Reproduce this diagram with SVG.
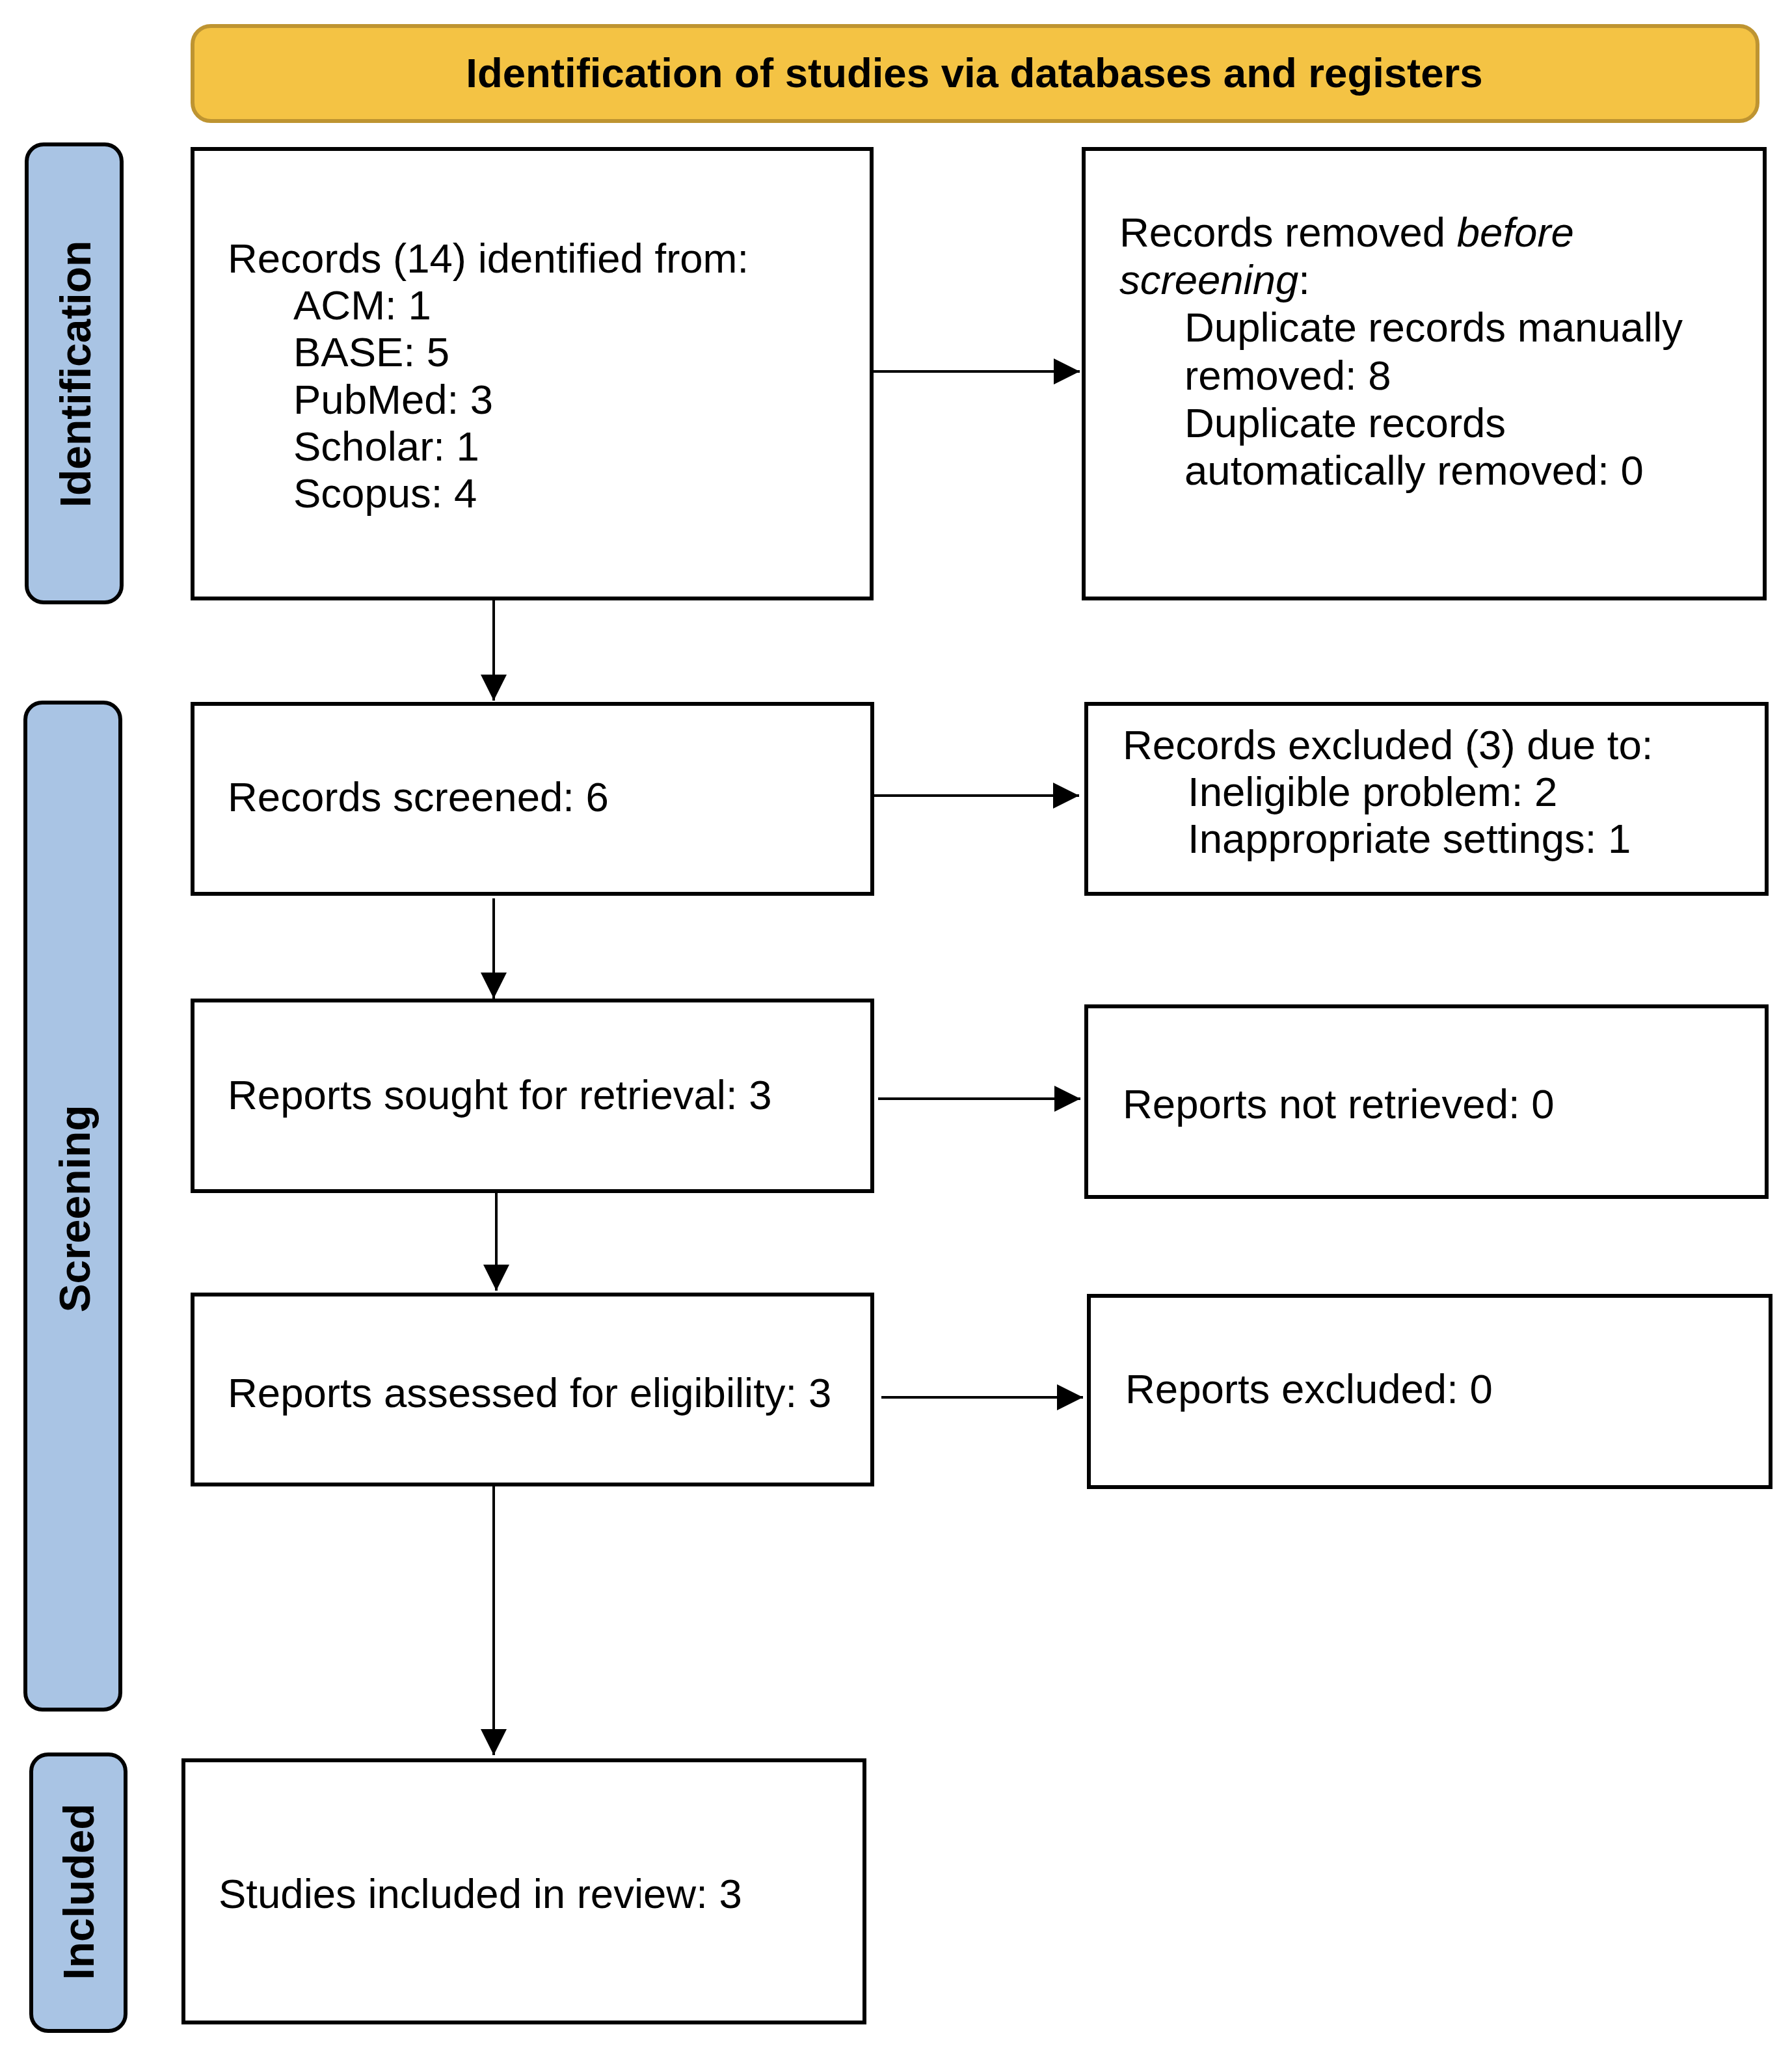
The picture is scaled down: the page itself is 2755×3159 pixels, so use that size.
<svg xmlns="http://www.w3.org/2000/svg" width="2755" height="3159" viewBox="0 0 2755 3159">
<style>
.box{fill:#fff;stroke:#000;stroke-width:6}
.phase{fill:#A9C4E4;stroke:#000;stroke-width:6}
.t{font-family:"Liberation Sans",Arial,sans-serif;font-size:63.5px;fill:#000}
.pt{font-family:"Liberation Sans",Arial,sans-serif;font-size:66px;font-weight:bold;fill:#000}
.bt{font-family:"Liberation Sans",Arial,sans-serif;font-size:63.5px;font-weight:bold;fill:#000}
.c{fill:none;stroke:#000;stroke-width:4}
</style>
<defs>
<marker id="ah" markerUnits="userSpaceOnUse" markerWidth="42" markerHeight="40" refX="40" refY="20" orient="auto">
<path d="M0,0 L40,20 L0,40 z" fill="#000"/>
</marker>
</defs>
<rect width="2755" height="3159" fill="#fff"/>
<g id="banner">
<rect x="296" y="40" width="2406" height="146" rx="28" fill="#F4C344" stroke="#BE9431" stroke-width="6"/>
<text class="bt" x="1498" y="134" text-anchor="middle">Identification of studies via databases and registers</text>
</g>
<g id="phase-identification">
<rect class="phase" x="41" y="222" width="146" height="704" rx="26"/>
<text class="pt" transform="translate(139,575) rotate(-90)" text-anchor="middle">Identification</text>
</g>
<g id="phase-screening">
<rect class="phase" x="39" y="1080" width="146" height="1548" rx="26"/>
<text class="pt" transform="translate(138,1858) rotate(-90)" text-anchor="middle">Screening</text>
</g>
<g id="phase-included">
<rect class="phase" x="48" y="2697" width="145" height="425" rx="26"/>
<text class="pt" transform="translate(144,2908) rotate(-90)" text-anchor="middle">Included</text>
</g>
<g id="connectors">
<path class="c" d="M1340,571 H1660" marker-end="url(#ah)"/>
<path class="c" d="M759,920 V1077" marker-end="url(#ah)"/>
<path class="c" d="M1340,1223 H1659" marker-end="url(#ah)"/>
<path class="c" d="M759,1381 V1535" marker-end="url(#ah)"/>
<path class="c" d="M1350,1689 H1661" marker-end="url(#ah)"/>
<path class="c" d="M763,1832 V1984" marker-end="url(#ah)"/>
<path class="c" d="M1355,2148 H1665" marker-end="url(#ah)"/>
<path class="c" d="M759,2283 V2698" marker-end="url(#ah)"/>
</g>
<g id="records-identified">
<rect class="box" x="296" y="229" width="1044" height="691"/>
<text class="t" x="350" y="419">Records (14) identified from:</text>
<text class="t" x="451" y="491">ACM: 1</text>
<text class="t" x="451" y="563">BASE: 5</text>
<text class="t" x="451" y="636">PubMed: 3</text>
<text class="t" x="451" y="708">Scholar: 1</text>
<text class="t" x="451" y="780">Scopus: 4</text>
</g>
<g id="records-removed">
<rect class="box" x="1666" y="229" width="1047" height="691"/>
<text class="t" x="1721" y="379">Records removed <tspan font-style="italic">before</tspan></text>
<text class="t" x="1721" y="452"><tspan font-style="italic">screening</tspan>:</text>
<text class="t" x="1821" y="525">Duplicate records manually</text>
<text class="t" x="1821" y="599">removed: 8</text>
<text class="t" x="1821" y="672">Duplicate records</text>
<text class="t" x="1821" y="745">automatically removed: 0</text>
</g>
<g id="records-screened">
<rect class="box" x="296" y="1082" width="1045" height="292"/>
<text class="t" x="350" y="1247">Records screened: 6</text>
</g>
<g id="records-excluded">
<rect class="box" x="1670" y="1082" width="1046" height="292"/>
<text class="t" x="1726" y="1167">Records excluded (3) due to:</text>
<text class="t" x="1826" y="1239">Ineligible problem: 2</text>
<text class="t" x="1826" y="1311">Inappropriate settings: 1</text>
</g>
<g id="reports-sought">
<rect class="box" x="296" y="1538" width="1045" height="293"/>
<text class="t" x="350" y="1705">Reports sought for retrieval: 3</text>
</g>
<g id="reports-not-retrieved">
<rect class="box" x="1670" y="1547" width="1046" height="293"/>
<text class="t" x="1726" y="1719">Reports not retrieved: 0</text>
</g>
<g id="reports-assessed">
<rect class="box" x="296" y="1990" width="1045" height="292"/>
<text class="t" x="350" y="2163">Reports assessed for eligibility: 3</text>
</g>
<g id="reports-excluded">
<rect class="box" x="1674" y="1992" width="1048" height="294"/>
<text class="t" x="1730" y="2157">Reports excluded: 0</text>
</g>
<g id="studies-included">
<rect class="box" x="282" y="2706" width="1047" height="403"/>
<text class="t" x="336" y="2933">Studies included in review: 3</text>
</g>
</svg>
